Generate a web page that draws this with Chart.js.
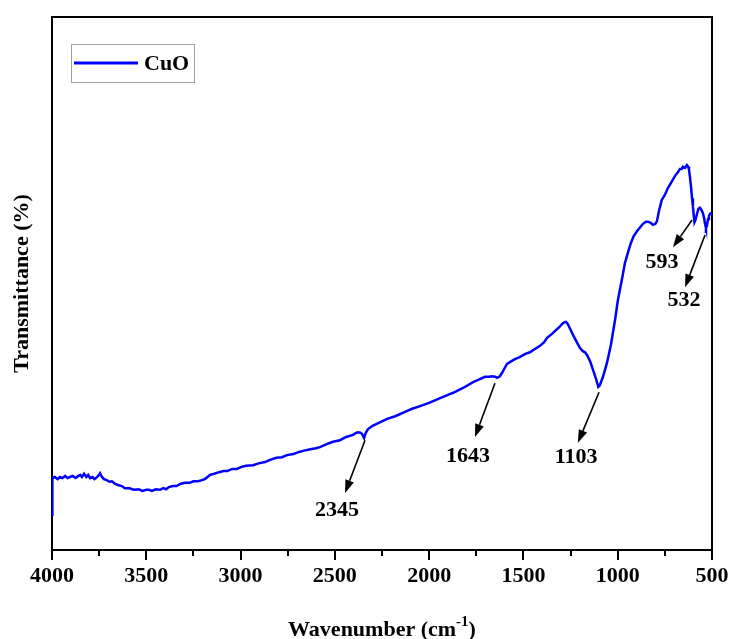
<!DOCTYPE html>
<html>
<head>
<meta charset="utf-8">
<script src="https://cdn.jsdelivr.net/npm/chart.js@4/dist/chart.umd.min.js"></script>
<style>
  html, body { margin: 0; padding: 0; background: #ffffff; }
  canvas { display: block; }
</style>
</head>
<body>
<canvas id="c" width="731" height="639"></canvas>
<script>
// ---- DATA ----
const seriesName = 'CuO';
const wavenumber = [
  4000, 3998, 3985, 3970, 3958, 3945, 3930, 3918, 3905, 3890,
  3875, 3860, 3850, 3841, 3830, 3818, 3808, 3798, 3785, 3775,
  3767, 3755, 3745, 3735, 3724, 3710, 3695, 3682, 3665, 3650,
  3630, 3613, 3590, 3575, 3560, 3540, 3520, 3500, 3486, 3470,
  3450, 3427, 3410, 3395, 3380, 3360, 3340, 3320, 3295, 3270,
  3250, 3225, 3205, 3190, 3175, 3162, 3140, 3114, 3090, 3070,
  3045, 3020, 2995, 2970, 2934, 2900, 2870, 2844, 2810, 2780,
  2754, 2720, 2690, 2669, 2630, 2600, 2579, 2540, 2510, 2473,
  2440, 2404, 2385, 2377, 2365, 2356, 2345, 2336, 2324, 2300,
  2270, 2223, 2180, 2128, 2090, 2048, 2000, 1942, 1900, 1873,
  1820, 1767, 1740, 1704, 1680, 1667, 1650, 1640, 1625, 1614,
  1600, 1587, 1570, 1545, 1520, 1490, 1465, 1440, 1412, 1390,
  1375, 1350, 1332, 1310, 1295, 1280, 1274, 1265, 1255, 1242,
  1220, 1200, 1185, 1173, 1160, 1145, 1131, 1115, 1103, 1095,
  1078, 1057, 1036, 1014, 999, 978, 962, 945, 930, 915,
  898, 880, 866, 850, 839, 825, 813, 800, 792, 780,
  766, 750, 734, 715, 696, 680, 670, 660, 654, 643,
  633, 626, 622, 617, 611, 606, 601, 596, 593, 588,
  580, 572, 564, 556, 548, 542, 537, 532, 527, 521,
  516, 508, 500
];
const transmittance = [
  6.6, 13.5, 13.7, 13.3, 13.7, 13.5, 13.9, 13.5, 13.7, 13.9,
  13.5, 13.9, 14.1, 13.7, 14.3, 13.7, 14.1, 13.5, 13.7, 13.3,
  13.5, 13.9, 14.4, 13.7, 13.3, 13.1, 12.8, 12.9, 12.4, 12.2,
  12.0, 11.6, 11.6, 11.4, 11.3, 11.4, 11.1, 11.3, 11.3, 11.1,
  11.4, 11.3, 11.6, 11.4, 11.8, 12.0, 12.0, 12.4, 12.6, 12.6,
  12.9, 12.9, 13.1, 13.3, 13.7, 14.1, 14.3, 14.6, 14.8, 14.8,
  15.2, 15.2, 15.6, 15.8, 15.9, 16.3, 16.5, 16.9, 17.3, 17.4,
  17.8, 18.0, 18.4, 18.6, 18.9, 19.1, 19.3, 19.9, 20.3, 20.6,
  21.2, 21.6, 22.0, 22.1, 22.0, 21.8, 21.0, 22.0, 22.7, 23.3,
  23.8, 24.6, 25.1, 25.9, 26.5, 27.0, 27.6, 28.5, 29.1, 29.5,
  30.4, 31.5, 31.9, 32.5, 32.5, 32.6, 32.5, 32.3, 32.6, 33.2,
  34.1, 34.9, 35.3, 35.8, 36.2, 36.8, 37.1, 37.7, 38.3, 39.0,
  39.8, 40.5, 41.1, 41.8, 42.4, 42.8, 42.8, 42.4, 41.7, 40.7,
  39.2, 37.9, 37.3, 37.1, 36.4, 35.3, 33.8, 32.1, 30.6, 30.9,
  32.5, 35.1, 38.5, 43.2, 46.9, 50.7, 53.8, 55.9, 57.6, 58.9,
  59.8, 60.6, 61.2, 61.6, 61.6, 61.4, 61.0, 61.2, 61.7, 63.8,
  65.7, 66.6, 67.9, 69.0, 70.2, 70.9, 71.5, 71.5, 71.9, 71.7,
  72.2, 71.9, 71.3, 70.0, 68.1, 66.0, 64.4, 62.5, 61.5, 61.9,
  63.0, 64.0, 64.2, 63.8, 63.2, 62.3, 61.2, 60.4, 60.8, 62.1,
  62.7, 63.2, 63.2
];
const xTickValues = [4000, 3500, 3000, 2500, 2000, 1500, 1000, 500];
const xMinorTicks = [3750, 3250, 2750, 2250, 1750, 1250, 750];

// Peak annotations (in data units: wavenumber, transmittance)
const peakLabels = ['2345', '1643', '1103', '593', '532'];
const arrowStartW = [2340, 1651, 1099, 606, 537];
const arrowStartT = [20.6, 31.3, 29.6, 61.9, 59.1];
const arrowEndW   = [2446, 1757, 1211, 707, 643];
const arrowEndT   = [10.7, 21.2, 20.1, 56.8, 49.3];
const labelW      = [2489, 1794, 1221, 765, 649];
const labelT      = [7.5, 17.6, 17.3, 54.0, 46.9];

// ---- STYLE ----
const FONT = "'Liberation Serif', 'Times New Roman', serif";
const LINE_COLOR = '#0000ff';

const points = wavenumber.map((w, i) => ({ x: w, y: transmittance[i] }));

const framePlugin = {
  id: 'frame',
  beforeDatasetsDraw(chart) {
    const { ctx, chartArea: a } = chart;
    ctx.save();
    ctx.strokeStyle = '#000';
    ctx.lineWidth = 2;
    ctx.strokeRect(a.left, a.top, a.right - a.left, a.bottom - a.top);
    // minor ticks
    const xs = chart.scales.x;
    ctx.beginPath();
    xMinorTicks.forEach(w => {
      const px = Math.round(xs.getPixelForValue(w));
      ctx.moveTo(px, a.bottom);
      ctx.lineTo(px, a.bottom + 6);
    });
    ctx.stroke();
    ctx.restore();
  },
  afterDatasetsDraw(chart) {
    const { ctx, chartArea: a } = chart;
    const xs = chart.scales.x, ys = chart.scales.y;
    ctx.save();
    // legend box
    const lx = a.left + 19, ly = a.top + 27;
    ctx.strokeStyle = '#a0a0a0';
    ctx.lineWidth = 1;
    ctx.strokeRect(lx + 0.5, ly + 0.5, 123, 38);
    ctx.strokeStyle = LINE_COLOR;
    ctx.lineWidth = 3;
    ctx.beginPath();
    ctx.moveTo(lx + 3, ly + 19);
    ctx.lineTo(lx + 67, ly + 19);
    ctx.stroke();
    ctx.fillStyle = '#000';
    ctx.font = 'bold 22px ' + FONT;
    ctx.textAlign = 'left';
    ctx.textBaseline = 'middle';
    ctx.fillText(seriesName, lx + 73, ly + 20);

    // arrows + labels
    ctx.strokeStyle = '#000';
    ctx.fillStyle = '#000';
    peakLabels.forEach((lab, i) => {
      const x1 = xs.getPixelForValue(arrowStartW[i]);
      const y1 = ys.getPixelForValue(arrowStartT[i]);
      const x2 = xs.getPixelForValue(arrowEndW[i]);
      const y2 = ys.getPixelForValue(arrowEndT[i]);
      const ang = Math.atan2(y2 - y1, x2 - x1);
      const headLen = 13, headW = 4.5;
      const bx = x2 - headLen * Math.cos(ang), by = y2 - headLen * Math.sin(ang);
      ctx.lineWidth = 1.6;
      ctx.beginPath();
      ctx.moveTo(x1, y1);
      ctx.lineTo(bx, by);
      ctx.stroke();
      ctx.beginPath();
      ctx.moveTo(x2, y2);
      ctx.lineTo(bx + headW * Math.sin(ang), by - headW * Math.cos(ang));
      ctx.lineTo(bx - headW * Math.sin(ang), by + headW * Math.cos(ang));
      ctx.closePath();
      ctx.fill();
      ctx.font = 'bold 22px ' + FONT;
      ctx.textAlign = 'center';
      ctx.textBaseline = 'middle';
      ctx.fillText(lab, xs.getPixelForValue(labelW[i]), ys.getPixelForValue(labelT[i]));
    });
    ctx.restore();
  },
  afterDraw(chart) {
    const { ctx, chartArea: a } = chart;
    ctx.save();
    ctx.fillStyle = '#000';
    ctx.textBaseline = 'alphabetic';
    ctx.textAlign = 'left';
    const main = 'Wavenumber (cm', sup = '-1', close = ')';
    const bigF = 'bold 22px ' + FONT, supF = 'bold 15px ' + FONT;
    ctx.font = bigF; const w1 = ctx.measureText(main).width; const w3 = ctx.measureText(close).width;
    ctx.font = supF; const w2 = ctx.measureText(sup).width;
    const total = w1 + w2 + w3;
    const cx = (a.left + a.right) / 2;
    let x = cx - total / 2;
    const base = 636;
    ctx.font = bigF; ctx.fillText(main, x, base); x += w1;
    ctx.font = supF; ctx.fillText(sup, x, base - 10); x += w2;
    ctx.font = bigF; ctx.fillText(close, x, base);
    ctx.restore();
  }
};

new Chart(document.getElementById('c'), {
  type: 'scatter',
  data: {
    datasets: [{
      label: seriesName,
      data: points,
      showLine: true,
      borderColor: LINE_COLOR,
      backgroundColor: LINE_COLOR,
      borderWidth: 2.5,
      pointRadius: 0,
      tension: 0,
      fill: false
    }]
  },
  options: {
    responsive: false,
    animation: false,
    devicePixelRatio: 1,
    layout: { padding: { top: 17, right: 19, left: 0, bottom: 0 } },
    plugins: { legend: { display: false }, tooltip: { enabled: false } },
    scales: {
      x: {
        type: 'linear',
        reverse: true,
        min: 500,
        max: 4000,
        afterBuildTicks(scale) { scale.ticks = xTickValues.map(v => ({ value: v })); },
        ticks: {
          color: '#000',
          font: { family: FONT, size: 22, weight: 'bold' },
          padding: 3,
          maxRotation: 0,
          autoSkip: false,
          callback: (v) => String(v)
        },
        grid: {
          display: true,
          drawOnChartArea: false,
          drawTicks: true,
          tickLength: 10,
          tickWidth: 2,
          tickColor: '#000',
          color: '#000',
          lineWidth: 2
        },
        border: { display: false },
        afterFit(scale) { scale.height = 89; scale.paddingRight = 0; scale.paddingLeft = 0; }
      },
      y: {
        type: 'linear',
        min: 0,
        max: 100,
        ticks: { display: false },
        grid: { display: false, drawTicks: false },
        border: { display: false },
        title: {
          display: true,
          text: 'Transmittance (%)',
          color: '#000',
          font: { family: FONT, size: 22, weight: 'bold' },
          padding: { top: 9, bottom: 0 }
        },
        afterFit(scale) { scale.width = 52; }
      }
    }
  },
  plugins: [framePlugin]
});
</script>
</body>
</html>
